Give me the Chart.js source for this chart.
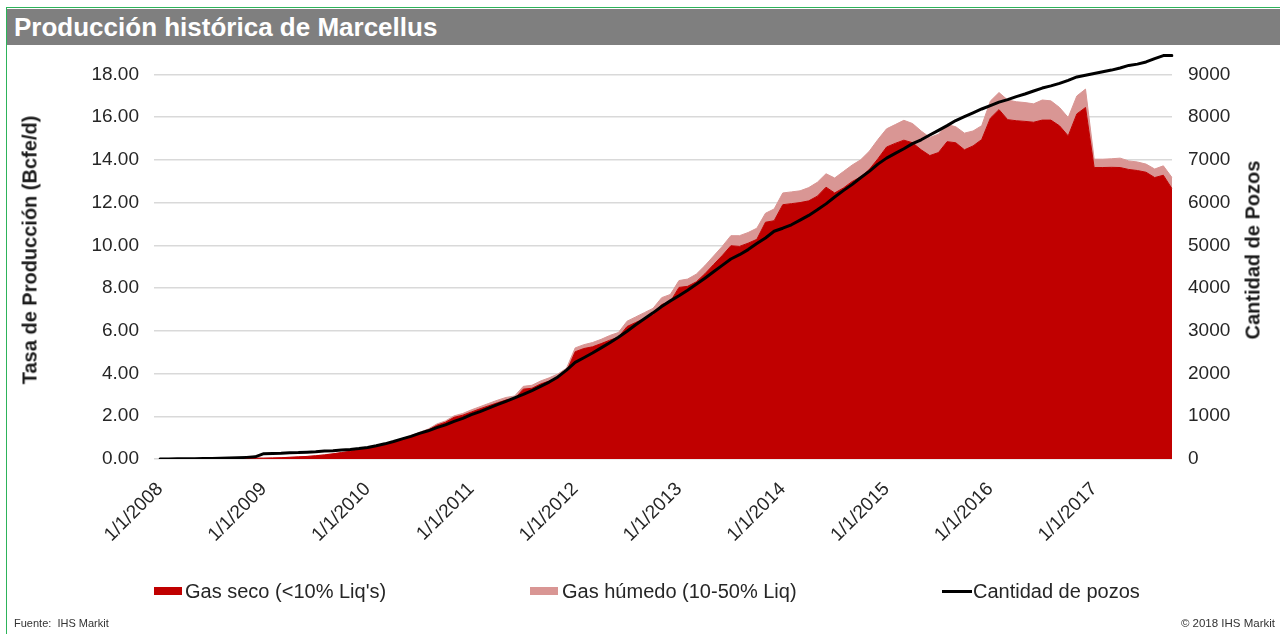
<!DOCTYPE html>
<html>
<head>
<meta charset="utf-8">
<script src="https://cdn.jsdelivr.net/npm/chart.js@4.4.0/dist/chart.umd.min.js"></script>
<style>
  body { margin: 0; width: 1280px; height: 634px; overflow: hidden; background: #fff;
         font-family: "Liberation Sans", Arial, sans-serif; position: relative; color: #262626; }
  #frame { position: absolute; left: 6px; top: 7px; width: 1274px; height: 627px;
           border-left: 1px solid #2DB35A; border-top: 1px solid #2DB35A; }
  #titlebar { position: absolute; left: 7px; top: 9px; width: 1273px; height: 36px; background: #7F7F7F;
              color: #fff; font-weight: bold; font-size: 26px; line-height: 36px; padding-left: 7px;
              box-sizing: border-box; white-space: nowrap; }
  #chart { position: absolute; left: 0; top: 0; }
  .axtitle { position: absolute; font-weight: bold; font-size: 20px; white-space: nowrap; color: #1a1a1a;
             transform: translate(-50%, -50%) rotate(-90deg); }
  .leg { position: absolute; font-size: 20px; line-height: 20px; white-space: nowrap; color: #262626; }
  .box { position: absolute; width: 28px; height: 8px; }
  .foot { position: absolute; font-size: 11px; white-space: nowrap; color: #333; }
</style>
</head>
<body>
<div id="frame"></div>
<div id="titlebar">Producción histórica de Marcellus</div>
<canvas id="chart" width="1280" height="634"></canvas>
<div class="axtitle" style="left:30px; top:250px;">Tasa de Producción (Bcfe/d)</div>
<div class="axtitle" style="left:1253px; top:250px;">Cantidad de Pozos</div>

<div class="box" style="left:154px; top:587px; background:#C00000;"></div>
<div class="leg" style="left:185px; top:581px;">Gas seco (&lt;10% Liq's)</div>
<div class="box" style="left:530px; top:587px; background:#D99694;"></div>
<div class="leg" style="left:562px; top:581px;">Gas húmedo (10-50% Liq)</div>
<div style="position:absolute; left:942px; top:590px; width:30px; height:3px; background:#000;"></div>
<div class="leg" style="left:973px; top:581px;">Cantidad de pozos</div>

<div class="foot" style="left:14px; top:617px;">Fuente:&nbsp; IHS Markit</div>
<div class="foot" style="right:5px; top:617px; font-size:11.5px;">© 2018 IHS Markit</div>

<script>
// monthly, Jan 2008 .. Oct 2017
const firstYear = 2008;
const monthCount = 118;
const months = [];
for (let i = 0; i < monthCount; i++) {
    months.push((i % 12 + 1) + '/1/' + (firstYear + Math.floor(i / 12)));
}

// Gas seco (Bcfe/d)
const dryGas = [
    0, 0, 0, 0, 0, 0, 0.01, 0.01, 0.02, 0.02, 0.03, 0.04,
    0.04, 0.05, 0.06, 0.08, 0.10, 0.12, 0.15, 0.19, 0.24, 0.30, 0.36, 0.44,
    0.52, 0.58, 0.68, 0.80, 0.92, 1.05, 1.20, 1.35, 1.58, 1.72, 1.95, 2.05,
    2.20, 2.35, 2.49, 2.63, 2.76, 2.82, 3.27, 3.31, 3.51, 3.65, 3.83, 4.09,
    5.02, 5.17, 5.25, 5.40, 5.56, 5.70, 6.20, 6.39, 6.57, 6.75, 7.23, 7.36,
    8.03, 8.08, 8.29, 8.67, 9.10, 9.52, 9.98, 9.95, 10.10, 10.28, 11.08, 11.15,
    11.90, 11.95, 12.00, 12.08, 12.30, 12.72, 12.45, 12.68, 12.98, 13.20, 13.55, 14.05,
    14.60, 14.77, 14.92, 14.80, 14.47, 14.20, 14.34, 14.85, 14.80, 14.47, 14.65, 14.95,
    15.95, 16.35, 15.88, 15.83, 15.80, 15.76, 15.86, 15.86, 15.59, 15.12, 16.15, 16.45,
    13.64, 13.64, 13.65, 13.64, 13.55, 13.50, 13.42, 13.17, 13.28, 12.65
];

// Gas húmedo (Bcfe/d), stacked on top of gas seco
const wetGas = [
    0, 0, 0, 0, 0, 0, 0, 0, 0, 0, 0, 0,
    0, 0, 0, 0, 0, 0, 0.01, 0.01, 0.01, 0.01, 0.02, 0.02,
    0.02, 0.02, 0.03, 0.03, 0.04, 0.04, 0.05, 0.05, 0.06, 0.06, 0.07, 0.08,
    0.10, 0.10, 0.11, 0.12, 0.12, 0.13, 0.13, 0.14, 0.14, 0.15, 0.15, 0.16,
    0.18, 0.18, 0.20, 0.20, 0.22, 0.22, 0.25, 0.26, 0.28, 0.30, 0.32, 0.34,
    0.32, 0.34, 0.36, 0.38, 0.40, 0.43, 0.47, 0.50, 0.50, 0.52, 0.42, 0.55,
    0.55, 0.55, 0.55, 0.62, 0.65, 0.63, 0.70, 0.77, 0.77, 0.80, 0.85, 0.90,
    0.85, 0.88, 0.93, 0.90, 0.88, 0.85, 0.86, 0.80, 0.75, 0.78, 0.70, 0.65,
    0.80, 0.80, 0.92, 0.89, 0.88, 0.86, 0.94, 0.90, 0.86, 0.86, 0.84, 0.86,
    0.39, 0.39, 0.40, 0.44, 0.40, 0.40, 0.38, 0.40, 0.44, 0.52
];

// Cantidad de pozos
const wells = [
    0, 2, 4, 6, 8, 10, 14, 18, 24, 30, 38, 50,
    125, 130, 135, 145, 150, 160, 170, 185, 195, 210, 225, 245,
    270, 310, 355, 410, 470, 530, 600, 660, 735, 800, 880, 950,
    1040, 1110, 1190, 1270, 1350, 1430, 1510, 1600, 1700, 1800, 1920, 2080,
    2260, 2370, 2480, 2600, 2720, 2850, 2990, 3140, 3280, 3420, 3570, 3700,
    3820, 3950, 4090, 4230, 4380, 4530, 4680, 4780, 4900, 5040, 5170, 5330,
    5400, 5480, 5590, 5700, 5830, 5970, 6130, 6280, 6420, 6580, 6730, 6900,
    7040, 7150, 7260, 7380, 7470, 7580, 7690, 7800, 7920, 8010, 8100, 8190,
    8270, 8350, 8410, 8480, 8540, 8610, 8680, 8730, 8790, 8860, 8940, 8980,
    9020, 9060, 9100, 9150, 9210, 9240, 9290, 9370, 9440, 9440
];

// tick labels of the right axis
const wellTicks = [0, 1000, 2000, 3000, 4000, 5000, 6000, 7000, 8000, 9000];

const tickFont = { family: '"Liberation Sans", Arial, sans-serif', size: 19 };

new Chart(document.getElementById('chart'), {
    type: 'line',
    data: {
        labels: months,
        datasets: [
            {
                label: "Gas seco (<10% Liq's)",
                data: dryGas,
                yAxisID: 'y',
                order: 1,
                fill: 'origin',
                backgroundColor: '#C00000',
                borderColor: '#C00000',
                borderWidth: 1,
                pointRadius: 0
            },
            {
                label: 'Gas húmedo (10-50% Liq)',
                data: wetGas,
                yAxisID: 'y',
                order: 2,
                fill: '-1',
                backgroundColor: '#D99694',
                borderColor: '#D99694',
                borderWidth: 1,
                pointRadius: 0
            },
            {
                label: 'Cantidad de pozos',
                data: wells,
                yAxisID: 'y1',
                order: 0,
                fill: false,
                borderColor: '#000000',
                borderWidth: 3,
                pointRadius: 0,
                borderCapStyle: 'round',
                borderJoinStyle: 'round'
            }
        ]
    },
    options: {
        responsive: false,
        animation: false,
        devicePixelRatio: 1,
        layout: { padding: { top: 53, left: 0, right: 0, bottom: 0 } },
        plugins: { legend: { display: false }, tooltip: { enabled: false } },
        scales: {
            x: {
                grid: { display: false },
                border: { display: false },
                ticks: {
                    autoSkip: false,
                    maxRotation: 45,
                    minRotation: 45,
                    padding: 11,
                    color: '#262626',
                    font: tickFont,
                    callback: function (val, idx) {
                        return idx % 12 === 0 ? this.getLabelForValue(val) : '';
                    }
                },
                afterFit: (s) => { s.height = 175; }
            },
            y: {
                position: 'left',
                stacked: true,
                min: 0,
                max: 19,
                border: { display: false },
                grid: { color: '#D9D9D9', lineWidth: 1.5, tickLength: 6 },
                ticks: {
                    stepSize: 2,
                    includeBounds: false,
                    padding: 15,
                    color: '#262626',
                    font: tickFont,
                    callback: (v) => v.toFixed(2)
                },
                afterFit: (s) => { s.width = 160; }
            },
            y1: {
                position: 'right',
                min: 0,
                max: 9500,
                border: { display: false },
                grid: { drawOnChartArea: false, drawTicks: false },
                ticks: {
                    padding: 16,
                    color: '#262626',
                    font: tickFont,
                    callback: (v) => String(v)
                },
                afterBuildTicks: (s) => { s.ticks = wellTicks.map(v => ({ value: v })); },
                afterFit: (s) => { s.width = 108; }
            }
        }
    }
});
</script>
</body>
</html>
